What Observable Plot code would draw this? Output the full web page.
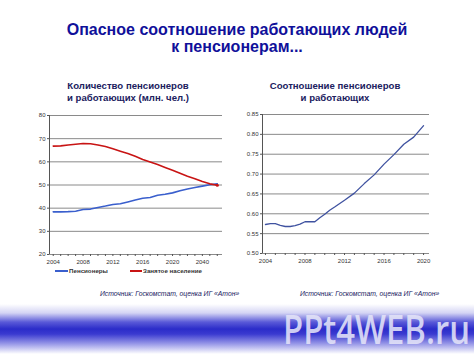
<!DOCTYPE html>
<html><head><meta charset="utf-8">
<script src="https://cdn.jsdelivr.net/npm/d3@7"></script>
<script src="https://cdn.jsdelivr.net/npm/@observablehq/plot@0.6"></script>
<style>
body{margin:0;background:#fff;font-family:"Liberation Sans",Arial,sans-serif;}
#wrap{position:relative;width:474px;height:355px;overflow:hidden;background:#fff;}
.abs{position:absolute;}
.title{left:0;width:474px;top:21px;text-align:center;font-weight:bold;font-size:16px;line-height:17px;color:#10109a;}
.sub{font-weight:bold;font-size:9.6px;line-height:12px;color:#20205e;text-align:center;}
.src{font-style:italic;font-size:6.8px;color:#20205e;white-space:nowrap;}
.leg{font-size:6.2px;font-weight:bold;color:#333;white-space:nowrap;}
#banner{left:0;top:300px;width:474px;height:55px;background:linear-gradient(to bottom,#fff 0px,#fff 4px,#d4d4f4 13px,#5a5ad8 22px,#2b2cc9 29px,#3a3ad0 34px,#9a9ae8 44px,#fff 54px);}
#brand{left:283px;top:309px;font-family:"Open Sans",sans-serif;font-weight:600;font-size:40px;line-height:1;color:rgba(228,228,248,0.88);white-space:nowrap;transform-origin:0 0;transform:scaleX(0.82);}
</style></head>
<body><div id="wrap">
<div class="abs title">Опасное соотношение работающих людей<br>к пенсионерам...</div>
<div class="abs sub" style="left:48px;width:160px;top:80px;">Количество пенсионеров<br>и работающих (млн. чел.)</div>
<div class="abs sub" style="left:255px;width:160px;top:80px;">Соотношение пенсионеров<br>и работающих</div>
<div id="left" class="abs" style="left:20px;top:105px;"></div>
<div id="right" class="abs" style="left:232px;top:104px;"></div>
<div class="abs" style="left:55px;top:270px;width:13px;height:2px;background:#3a5fcd;"></div>
<div class="abs leg" style="left:69px;top:267px;">Пенсионеры</div>
<div class="abs" style="left:130px;top:270px;width:12px;height:2px;background:#c81414;"></div>
<div class="abs leg" style="left:143px;top:267px;">Занятое население</div>
<div class="abs src" style="left:100px;top:290px;">Источник: Госкомстат, оценка ИГ «Атон»</div>
<div class="abs src" style="left:300px;top:290px;">Источник: Госкомстат, оценка ИГ «Атон»</div>
<div id="banner" class="abs"></div>
<div id="brand" class="abs">PPt4WEB.ru</div>
</div>
<script>
// Left chart data
const yearsL = [2004,2005,2006,2007,2008,2009,2010,2011,2012,2013,2014,2015,2016,2017,2018,2019,2020,2021,2022,2023,2024,2025,2026];
const pensioners = [38.4,38.4,38.5,38.7,39.4,39.6,40.3,40.9,41.6,41.9,42.7,43.5,44.3,44.6,45.6,46.0,46.6,47.5,48.3,48.9,49.5,50.1,50.5];
const employed = [66.8,66.9,67.3,67.6,67.9,67.8,67.3,66.6,65.6,64.6,63.6,62.4,61.0,59.9,58.8,57.6,56.4,55.1,53.8,52.7,51.5,50.5,49.9];
const xTickYearsL = [2004,2008,2012,2016,2020,2024];
const xTickLabelsL = ["2004","2008","2012","2016","2020","2040"];
const yTicksL = [20,30,40,50,60,70,80];
const seriesNames = ["Пенсионеры","Занятое население"];

// Right chart data
const yearsR = [2004,2004.5,2005,2005.5,2006,2006.5,2007,2007.5,2008,2008.5,2009,2009.5,2010,2010.5,2011,2012,2013,2014,2015,2016,2017,2018,2019,2020];
const ratio = [0.573,0.575,0.575,0.571,0.568,0.568,0.570,0.574,0.580,0.580,0.580,0.590,0.599,0.609,0.617,0.634,0.652,0.676,0.698,0.725,0.749,0.775,0.793,0.822];
const xTickYearsR = [2004,2008,2012,2016,2020];
const xTickLabelsR = ["2004","2008","2012","2016","2020"];
const yTicksR = [0.50,0.55,0.60,0.65,0.70,0.75,0.80,0.85];

const font = {fontSize:"6px", fontFamily:"'Liberation Sans', Arial, sans-serif", background:"transparent", color:"#333", overflow:"visible"};
const allYearsL = d3.range(2004, 2027);
const allYearsR = d3.range(2004, 2021);

const dataP = yearsL.map((y,i)=>({x:y, v:pensioners[i]}));
const dataE = yearsL.map((y,i)=>({x:y, v:employed[i]}));

const left = Plot.plot({
  width:210, height:165, marginLeft:29, marginRight:8, marginTop:10, marginBottom:16,
  style:font,
  x:{domain:[2003.5,2026.7]},
  y:{domain:[20,80]},
  marks:[
    Plot.gridY(yTicksL, {stroke:"#8a8a8a", strokeOpacity:1, strokeWidth:1}),
    Plot.ruleX([2003.5], {stroke:"#555"}),
    Plot.axisY(yTicksL, {tickSize:2, tickPadding:2, stroke:"#555", label:null}),
    Plot.axisX(allYearsL, {tickSize:2, tickPadding:3, stroke:"#555", label:null,
      tickFormat:d=>{const i=xTickYearsL.indexOf(d);return i>=0?xTickLabelsL[i]:"";}}),
    Plot.line(dataP, {x:"x", y:"v", stroke:"#3a5fcd", strokeWidth:1.6}),
    Plot.line(dataE, {x:"x", y:"v", stroke:"#c81414", strokeWidth:1.6}),
    Plot.dot([dataE[dataE.length-1]], {x:"x", y:"v", fill:"#c81414", r:1.6})
  ]
});
document.getElementById("left").appendChild(left);

const dataR = yearsR.map((y,i)=>({x:y, v:ratio[i]}));
const right = Plot.plot({
  width:205, height:165, marginLeft:30, marginRight:8, marginTop:10, marginBottom:16,
  style:font,
  x:{domain:[2003.7,2020.6]},
  y:{domain:[0.5,0.85]},
  marks:[
    Plot.gridY(yTicksR, {stroke:"#8a8a8a", strokeOpacity:1, strokeWidth:1}),
    Plot.ruleX([2003.7], {stroke:"#555"}),
    Plot.axisY(yTicksR, {tickSize:2, tickPadding:2, stroke:"#555", label:null, tickFormat:d3.format(".2f")}),
    Plot.axisX(allYearsR, {tickSize:2, tickPadding:3, stroke:"#555", label:null,
      tickFormat:d=>{const i=xTickYearsR.indexOf(d);return i>=0?xTickLabelsR[i]:"";}}),
    Plot.line(dataR, {x:"x", y:"v", stroke:"#3f52a0", strokeWidth:1.3})
  ]
});
document.getElementById("right").appendChild(right);
</script>
</body></html>
